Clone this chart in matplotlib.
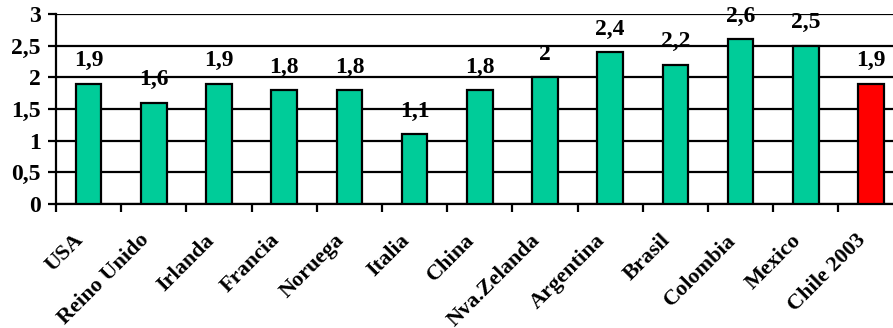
import matplotlib
matplotlib.use("Agg")
import matplotlib.pyplot as plt
import matplotlib.transforms as mtransforms
import numpy as np

categories = ["USA", "Reino Unido", "Irlanda", "Francia", "Noruega", "Italia",
              "China", "Nva.Zelanda", "Argentina", "Brasil", "Colombia",
              "Mexico", "Chile 2003"]
values = [1.9, 1.6, 1.9, 1.8, 1.8, 1.1, 1.8, 2.0, 2.4, 2.2, 2.6, 2.5, 1.9]
value_labels = ["1,9", "1,6", "1,9", "1,8", "1,8", "1,1", "1,8", "2", "2,4",
                "2,2", "2,6", "2,5", "1,9"]
y_ticks = [0, 0.5, 1, 1.5, 2, 2.5, 3]
y_tick_labels = ["0", "0,5", "1", "1,5", "2", "2,5", "3"]

green = "#00CC99"
red = "#FF0000"
colors = [green] * (len(categories) - 1) + [red]

plt.rcParams["font.family"] = ["Liberation Serif", "DejaVu Serif"]
plt.rcParams["font.weight"] = "bold"

fig = plt.figure(figsize=(8.93, 3.28), dpi=100)
ax = fig.add_axes([56 / 893, 124 / 328, 847.6 / 893, 190 / 328])

x = np.arange(len(categories))
ax.bar(x, values, width=0.39, color=colors, edgecolor="black", linewidth=1.6,
       zorder=3)

for xi, v, lab in zip(x, values, value_labels):
    ax.annotate(lab, (xi, v), xytext=(0, 23), textcoords="offset pixels",
                ha="center", va="center", fontsize=17, fontweight="bold")

ax.set_xlim(-0.5, len(categories) - 0.5)
ax.set_ylim(0, 3)
ax.set_yticks(y_ticks)
ax.set_yticklabels(y_tick_labels, fontsize=17, fontweight="bold")
ax.yaxis.grid(True, color="black", linewidth=1.6, zorder=0)
ax.set_axisbelow(True)

# category ticks sit between bars; labels are placed at bar centres
ax.set_xticks(np.arange(len(categories) + 1) - 0.5)
ax.set_xticklabels([])
ax.set_xticks(x, minor=True)
ax.set_xticklabels(categories, minor=True, rotation=45, ha="right",
                   va="center", rotation_mode="anchor", fontsize=16,
                   fontweight="bold")
ax.tick_params(axis="x", which="minor", length=0, pad=24)
ax.tick_params(axis="x", which="major", direction="out", length=6, width=1.6)
ax.tick_params(axis="y", direction="out", length=6, width=1.6, pad=5)

shift = mtransforms.ScaledTranslation(-8 / 100, 0, fig.dpi_scale_trans)
for lab in ax.get_xticklabels(minor=True):
    lab.set_transform(lab.get_transform() + shift)

for side in ["top", "right"]:
    ax.spines[side].set_visible(False)
for side in ["left", "bottom"]:
    ax.spines[side].set_linewidth(1.6)

fig.savefig("out.png", dpi=100)
